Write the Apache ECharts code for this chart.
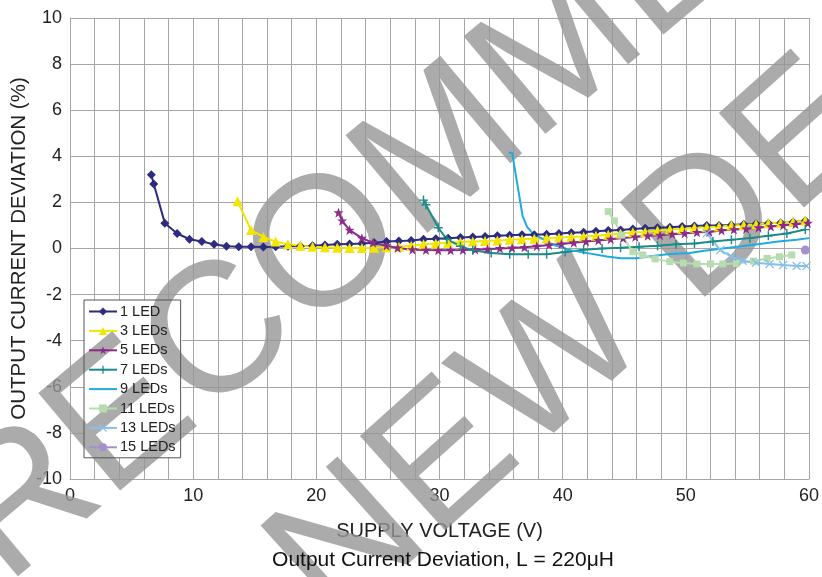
<!DOCTYPE html>
<html>
<head>
<meta charset="utf-8">
<script src="https://cdn.jsdelivr.net/npm/echarts@6/dist/echarts.min.js"></script>
<style>
html,body{margin:0;padding:0;background:#fff;}
#chart{width:822px;height:577px;}
</style>
</head>
<body>
<div id="chart"></div>
<script>
// ---- data ----
const seriesNames = ['1 LED','3 LEDs','5 LEDs','7 LEDs','9 LEDs','11 LEDs','13 LEDs','15 LEDs'];
const xTicks = [0,10,20,30,40,50,60];
const yTicks = [-10,-8,-6,-4,-2,0,2,4,6,8,10];

const led1 = [[6.6,3.2],[6.8,2.8],[7.7,1.1],[8.7,0.65],[9.7,0.4],[10.7,0.3],[11.7,0.18],[12.7,0.1],[13.7,0.08],[14.7,0.08],[15.7,0.07],[16.7,0.08],[17.7,0.1],[18.7,0.1],[19.7,0.12],[20.7,0.15],[21.7,0.18],[22.7,0.2],[23.7,0.22],[24.7,0.25],[25.7,0.3],[26.7,0.32],[27.7,0.35],[28.7,0.4],[29.7,0.42],[30.7,0.45],[31.7,0.48],[32.7,0.5],[33.7,0.52],[34.7,0.55],[35.7,0.57],[36.7,0.6],[37.7,0.6],[38.7,0.62],[39.7,0.65],[40.7,0.68],[41.7,0.7],[42.7,0.75],[43.7,0.78],[44.7,0.8],[45.7,0.85],[46.7,0.88],[47.7,0.9],[48.7,0.92],[49.7,0.95],[50.7,0.98],[51.7,1.0],[52.7,1.0],[53.7,1.02],[54.7,1.05],[55.7,1.07],[56.7,1.1],[57.7,1.12],[58.7,1.15],[59.7,1.2]];
const led3 = [[13.6,2.05],[14.7,0.8],[15.7,0.5],[16.7,0.3],[17.7,0.18],[18.7,0.12],[19.7,0.08],[20.7,0.05],[21.7,0.03],[22.7,0.02],[23.7,0.02],[24.7,0.03],[25.7,0.05],[26.7,0.08],[27.7,0.12],[28.7,0.18],[29.7,0.22],[30.7,0.25],[31.7,0.28],[32.7,0.3],[33.7,0.32],[34.7,0.35],[35.7,0.38],[36.7,0.4],[37.7,0.42],[38.7,0.45],[39.7,0.48],[40.7,0.5],[41.7,0.52],[42.7,0.55],[43.7,0.6],[44.7,0.65],[45.7,0.7],[46.7,0.72],[47.7,0.78],[48.7,0.82],[49.7,0.85],[50.7,0.9],[51.7,0.92],[52.7,0.95],[53.7,1.0],[54.7,1.02],[55.7,1.05],[56.7,1.1],[57.7,1.12],[58.7,1.15],[59.7,1.22]];
const led5 = [[21.8,1.55],[22.1,1.2],[22.7,0.8],[23.7,0.45],[24.6,0.25],[25.7,0.12],[26.6,0.02],[27.8,-0.05],[28.9,-0.07],[29.9,-0.08],[30.9,-0.08],[31.9,-0.07],[32.9,-0.05],[33.9,-0.03],[34.9,0.0],[35.9,0.02],[36.9,0.05],[37.9,0.1],[38.9,0.15],[39.9,0.2],[40.9,0.25],[41.9,0.3],[42.9,0.35],[43.9,0.4],[44.9,0.45],[45.9,0.5],[46.9,0.55],[47.9,0.58],[48.9,0.62],[49.9,0.65],[50.9,0.7],[51.9,0.72],[52.9,0.78],[53.9,0.82],[54.9,0.85],[55.9,0.9],[56.9,0.95],[57.9,1.0],[58.9,1.05],[59.9,1.1]];
const led7 = [[28.7,2.1],[28.9,1.9],[29.9,0.9],[30.6,0.4],[31.7,0.1],[32.7,-0.08],[34.2,-0.2],[35.7,-0.25],[37.2,-0.25],[38.7,-0.25],[40.2,-0.15],[41.7,-0.05],[43.2,0.0],[44.7,0.03],[46.2,0.08],[47.7,0.12],[49.2,0.18],[50.7,0.22],[52.2,0.3],[53.7,0.38],[55.2,0.45],[56.7,0.55],[58.2,0.65],[59.7,0.82]];
const led9 = [[35.6,4.15],[35.9,4.15],[36.75,1.4],[37.1,0.95],[37.6,0.63],[39.3,0.15],[40.6,-0.07],[42.0,-0.2],[43.6,-0.35],[44.7,-0.42],[46.0,-0.42],[47.0,-0.35],[48.5,-0.25],[50.3,-0.2],[51.5,-0.1],[53.0,0.0],[54.5,0.1],[56.0,0.2],[57.5,0.3],[59.0,0.38],[60.0,0.45]];
const led11 = [[43.7,1.6],[44.2,1.2],[44.8,0.58],[45.7,-0.14],[46.5,-0.28],[47.5,-0.45],[48.7,-0.57],[49.8,-0.63],[50.9,-0.67],[52.0,-0.67],[53.0,-0.67],[54.1,-0.65],[55.5,-0.55],[56.6,-0.43],[57.6,-0.36],[58.6,-0.28]];
const led13 = [[51.7,0.66],[52.8,-0.07],[53.7,-0.35],[54.6,-0.53],[55.7,-0.62],[56.8,-0.67],[57.9,-0.72],[59.0,-0.76],[59.8,-0.76]];
const led15 = [[59.7,-0.07]];

const seriesData = [led1,led3,led5,led7,led9,led11,led13,led15];
const colors = ['#2d2b7f','#f2e600','#8b2c88','#1b8b87','#1eabdf','#b6dcb0','#86c0ea','#a48fcf'];
const symbols = [
  'diamond',
  'triangle',
  'path://M0,-5 L1.3,-1.6 L5,-1.6 L2,0.7 L3.1,4.5 L0,2.2 L-3.1,4.5 L-2,0.7 L-5,-1.6 L-1.3,-1.6 Z',
  'path://M-0.8,-5 H0.8 V-0.8 H5 V0.8 H0.8 V5 H-0.8 V0.8 H-5 V-0.8 H-0.8 Z',
  'circle',
  'rect',
  'path://M-4,-5 L0,-1 L4,-5 L5,-4 L1,0 L5,4 L4,5 L0,1 L-4,5 L-5,4 L-1,0 L-5,-4 Z',
  'circle'
];
const symbolSizes = [9,10,10,9,0,7,9,9];

const chart = echarts.init(document.getElementById('chart'));
const font = 'Arial, "Liberation Sans", sans-serif';

const series = seriesNames.map((n,i)=>({
  name:n, type:'line', data:seriesData[i], z:2,
  symbol: symbols[i], symbolSize: symbolSizes[i], showSymbol: symbolSizes[i] > 0,
  lineStyle:{color:colors[i], width:2},
  itemStyle:{color:colors[i]},
  emphasis:{disabled:true}, animation:false
}));

const legendData = seriesNames.map((n,i)=> symbolSizes[i] > 0 ? {name:n} : {name:n, itemStyle:{opacity:0}});

const option = {
  animation:false,
  backgroundColor:'#fff',
  grid:{left:70, right:13, top:18, bottom:98, outerBoundsMode:'none', containLabel:false},
  title:{text:'Output Current Deviation, L = 220μH', left:438, top:545,
    textAlign:'center',
    textStyle:{fontFamily:font, fontSize:21, fontWeight:'normal', color:'#111'}},
  legend:{
    orient:'vertical', left:84, top:300,
    itemWidth:28, itemHeight:10, itemGap:4.4,
    padding:[4,5,3,4],
    backgroundColor:'transparent', borderColor:'#555', borderWidth:1,
    textStyle:{fontFamily:font, fontSize:14.5, color:'#222', padding:[0,0,0,-2]},
    data:legendData
  },
  xAxis:{
    type:'value', min:xTicks[0], max:xTicks[xTicks.length-1], interval:10,
    name:'SUPPLY VOLTAGE (V)', nameLocation:'middle', nameGap:42, nameMoveOverlap:false,
    nameTextStyle:{fontFamily:font, fontSize:20, color:'#222'},
    axisLine:{show:true, onZero:false, lineStyle:{color:'#a6a6a6', width:1}},
    axisTick:{show:false},
    axisLabel:{fontFamily:font, fontSize:18, color:'#222', margin:8},
    splitLine:{show:true, lineStyle:{color:'#a6a6a6', width:1}},
    minorTick:{show:false, splitNumber:5},
    minorSplitLine:{show:true, lineStyle:{color:'#a6a6a6', width:1}}
  },
  yAxis:{
    type:'value', min:yTicks[0], max:yTicks[yTicks.length-1], interval:2,
    name:'OUTPUT CURRENT DEVIATION (%)', nameLocation:'middle', nameGap:40, nameMoveOverlap:false,
    nameTextStyle:{fontFamily:font, fontSize:20.5, color:'#222'},
    axisLine:{show:true, lineStyle:{color:'#a6a6a6', width:1}},
    axisTick:{show:false},
    axisLabel:{fontFamily:font, fontSize:18, color:'#222', margin:8},
    splitLine:{show:true, lineStyle:{color:'#a6a6a6', width:1}}
  },
  graphic:[
    {type:'rect', z:1, shape:{x:84, y:300, width:98, height:158}, style:{fill:'#fff'}},
    {type:'text', z:1, x:375, y:210, rotation:Math.PI*40/180,
      style:{text:'NOT RECOMMENDED', fontFamily:font, fontSize:185, fill:'rgba(150,150,150,0.8)', textAlign:'center', textVerticalAlign:'middle'}},
    {type:'text', z:1, x:625, y:300, rotation:Math.PI*42/180,
      style:{text:'FOR NEW DESIGNS', fontFamily:font, fontSize:185, fill:'rgba(150,150,150,0.8)', textAlign:'center', textVerticalAlign:'middle'}}
  ],
  series: series
};
chart.setOption(option);
</script>
</body>
</html>
